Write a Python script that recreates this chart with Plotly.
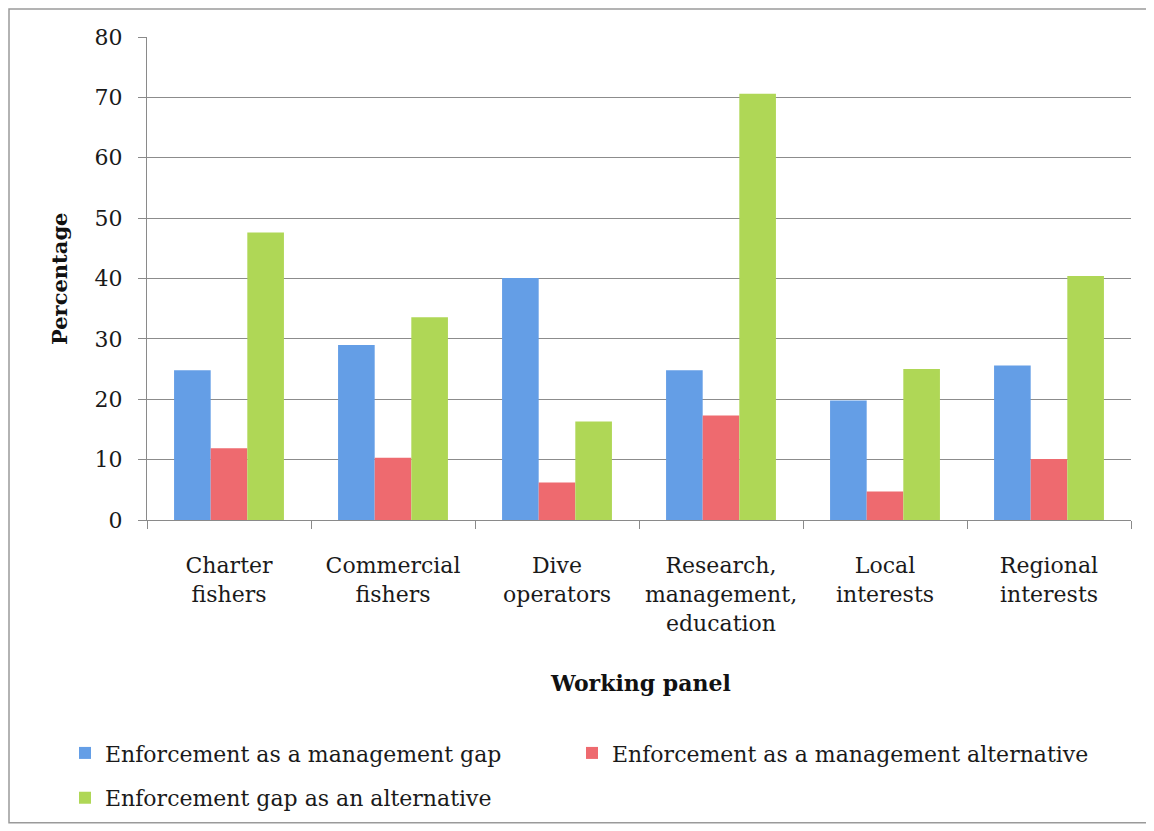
import plotly.graph_objects as go

categories = ["Charter<br>fishers", "Commercial<br>fishers", "Dive<br>operators",
              "Research,<br>management,<br>education", "Local<br>interests", "Regional<br>interests"]
series_names = ["Enforcement as a management gap",
                "Enforcement as a management alternative",
                "Enforcement gap as an alternative"]
gap_values = [24.8, 29.0, 40.1, 24.8, 19.8, 25.6]
alternative_values = [11.9, 10.3, 6.2, 17.3, 4.7, 10.1]
gap_alt_values = [47.6, 33.6, 16.3, 70.6, 25.0, 40.4]
y_ticks = [0, 10, 20, 30, 40, 50, 60, 70, 80]

colors = ["#649EE6", "#EE6A6F", "#AFD756"]
legends = ["legend", "legend3", "legend2"]
FONT = "DejaVu Serif"
FS = 22

# page body has an 8px margin; positions below are screen pixels
OFF = 8
W, H = 1154 - OFF, 831 - OFF
plot_left, plot_right, plot_top, plot_bottom = 147, 1131, 37, 522
L, T = plot_left - OFF, plot_top - OFF
R = W - (plot_right - OFF)
B = H - (plot_bottom - OFF)
pw, ph = W - L - R, H - T - B

def px_x(px):
    return (px - plot_left) / pw

def px_y(py):
    return (plot_bottom - py) / ph

fig = go.Figure()
for name, vals, col, lg in zip(series_names, [gap_values, alternative_values, gap_alt_values], colors, legends):
    fig.add_trace(go.Bar(x=categories, y=vals, name=name, legend=lg,
                         marker=dict(color=col, line=dict(width=0))))

legend_common = dict(orientation="h", xanchor="left", yanchor="top",
                     font=dict(family=FONT, size=FS, color="#1a1a1a"),
                     bgcolor="rgba(0,0,0,0)", traceorder="normal")

fig.update_layout(
    width=W, height=H,
    margin=dict(l=L, r=R, t=T, b=B),
    paper_bgcolor="white", plot_bgcolor="white",
    barmode="group", bargap=0.33, bargroupgap=0,
    font=dict(family=FONT, size=FS, color="#1a1a1a"),
    showlegend=True,
    legend=dict(x=px_x(65), y=px_y(735), **legend_common),
    legend3=dict(x=px_x(572), y=px_y(735), **legend_common),
    legend2=dict(x=px_x(65), y=px_y(780), **legend_common),
    xaxis=dict(showline=True, linecolor="#8a8a8a", linewidth=1,
               ticks="outside", tickson="boundaries", ticklen=8, tickcolor="#8a8a8a",
               showgrid=False, tickfont=dict(family=FONT, size=FS, color="#1a1a1a"),
               ticklabelstandoff=26, fixedrange=True),
    yaxis=dict(range=[0, 80], tickvals=y_ticks, showline=True, linecolor="#8a8a8a", linewidth=1,
               ticks="outside", ticklen=8, tickcolor="#8a8a8a",
               showgrid=True, gridcolor="#8c8c8c", gridwidth=1,
               zeroline=False, tickfont=dict(family=FONT, size=FS, color="#1a1a1a"),
               ticklabelstandoff=11, fixedrange=True),
    annotations=[
        dict(text="<b>Percentage</b>", xref="paper", yref="paper", x=px_x(60), y=px_y(280),
             textangle=-90, showarrow=False, font=dict(family=FONT, size=21, color="#111"),
             xanchor="center", yanchor="middle"),
        dict(text="<b>Working panel</b>", xref="paper", yref="paper", x=px_x(640), y=px_y(686),
             showarrow=False, font=dict(family=FONT, size=22, color="#111"),
             xanchor="center", yanchor="middle"),
    ],
    shapes=[dict(type="rect", xref="paper", yref="paper",
                 x0=px_x(9), x1=px_x(1148), y0=px_y(9), y1=px_y(826),
                 line=dict(color="#9a9a9a", width=1.5), fillcolor="rgba(0,0,0,0)", layer="below")],
)

fig.write_html("out.html")
